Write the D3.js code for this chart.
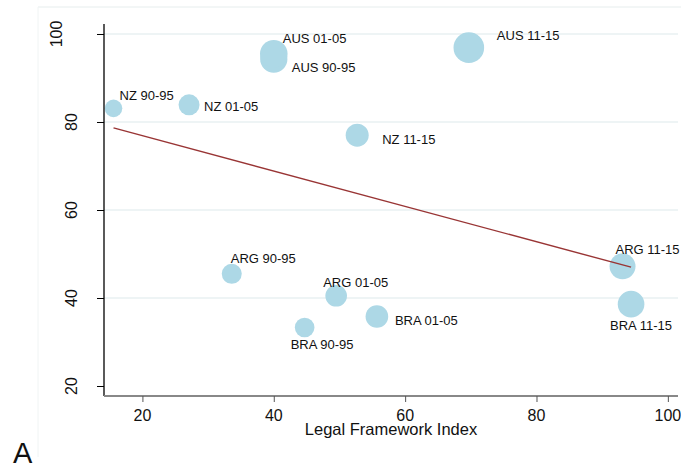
<!DOCTYPE html>
<html>
<head>
<meta charset="utf-8">
<script src="https://cdn.jsdelivr.net/npm/d3@7"></script>
<style>
  html, body { margin: 0; padding: 0; background: #fff; }
  svg { display: block; font-family: "Liberation Sans", Arial, sans-serif; }
</style>
</head>
<body>
<svg id="chart" width="681" height="468"></svg>
<script>
// ---- data ----
const labels = ["NZ 90-95", "NZ 01-05", "NZ 11-15", "AUS 90-95", "AUS 01-05", "AUS 11-15",
                "ARG 90-95", "ARG 01-05", "ARG 11-15", "BRA 90-95", "BRA 01-05", "BRA 11-15"];
const legalIndex = [15.6, 27.1, 52.7, 40.0, 40.0, 69.7, 33.6, 49.5, 93.1, 44.7, 55.7, 94.4];
const outcome    = [83.1, 83.9, 77.0, 94.3, 95.5, 96.9, 45.5, 40.5, 47.2, 33.3, 35.8, 38.6];
const weight     = [77, 110, 132, 186, 190, 234, 100, 117, 169, 96, 128, 177];
const xTicks = [20, 40, 60, 80, 100];
const yTicks = [20, 40, 60, 80, 100];
const xTitle = "Legal Framework Index";
const panelLabel = "A";

// ---- label placement (style): offset of label start / vertical centre from marker centre ----
const labelOffset = {
  "NZ 90-95": [6, -13], "NZ 01-05": [15, 2], "NZ 11-15": [25, 4],
  "AUS 90-95": [18, 8], "AUS 01-05": [9, -15], "AUS 11-15": [28, -12],
  "ARG 90-95": [-1, -15], "ARG 01-05": [-13, -13], "ARG 11-15": [-7, -17],
  "BRA 90-95": [-14, 17], "BRA 01-05": [18, 4], "BRA 11-15": [-21, 21]
};

const pts = labels.map((l, i) => ({ label: l, x: legalIndex[i], y: outcome[i], w: weight[i] }));

const svg = d3.select("#chart");
const x = d3.scaleLinear().domain([14.15, 101.5]).range([104, 677.7]);
const y = d3.scaleLinear().domain([17.73, 102.27]).range([396, 24]);
const r = d3.scaleSqrt().domain([0, d3.max(weight)]).range([0, 15.3]);

// graph region faint border
svg.append("line").attr("x1", 38).attr("x2", 681).attr("y1", 7).attr("y2", 7)
  .attr("stroke", "#e6eded").attr("stroke-width", 1);
svg.append("line").attr("x1", 38).attr("x2", 38).attr("y1", 7).attr("y2", 457)
  .attr("stroke", "#f0f4f4").attr("stroke-width", 1);

// gridlines
svg.append("g").selectAll("line").data(yTicks.filter(t => t !== 20)).join("line")
  .attr("x1", 104).attr("x2", 678)
  .attr("y1", d => y(d)).attr("y2", d => y(d))
  .attr("stroke", "#e8f1f2").attr("stroke-width", 1.4);

// markers
svg.append("g").selectAll("circle").data(pts).join("circle")
  .attr("cx", d => x(d.x)).attr("cy", d => y(d.y)).attr("r", d => r(d.w))
  .attr("fill", "#add8e6");

// marker labels
svg.append("g").selectAll("text").data(pts).join("text")
  .attr("x", d => x(d.x) + labelOffset[d.label][0])
  .attr("y", d => y(d.y) + labelOffset[d.label][1] + 4.6)
  .attr("font-size", 13).attr("fill", "#111")
  .text(d => d.label);

// OLS fit line
const mx = d3.mean(pts, d => d.x), my = d3.mean(pts, d => d.y);
const sxy = d3.sum(pts, d => (d.x - mx) * (d.y - my));
const sxx = d3.sum(pts, d => (d.x - mx) ** 2);
const b = sxy / sxx, a = my - b * mx;
const [x0, x1] = d3.extent(pts, d => d.x);
svg.append("line")
  .attr("x1", x(x0)).attr("y1", y(a + b * x0))
  .attr("x2", x(x1)).attr("y2", y(a + b * x1))
  .attr("stroke", "#993535").attr("stroke-width", 1.4);

// y axis
const yAxis = svg.append("g").attr("transform", "translate(104,0)")
  .call(d3.axisLeft(y).tickValues(yTicks).tickSize(7).tickFormat(""));
yAxis.select(".domain").attr("d", "M0,24V396").attr("stroke", "#000").attr("stroke-width", 1.3);
yAxis.selectAll(".tick line").attr("stroke", "#000").attr("stroke-width", 1);
svg.append("g").selectAll("text").data(yTicks).join("text")
  .attr("transform", d => `translate(${String(d).length > 2 ? 61.7 : 76.7},${y(d)}) rotate(-90)`)
  .attr("text-anchor", "middle").attr("font-size", 16).attr("fill", "#111")
  .text(d => d);

// x axis
const xAxis = svg.append("g").attr("transform", "translate(0,396)")
  .call(d3.axisBottom(x).tickValues(xTicks).tickSize(6).tickFormat(""));
xAxis.select(".domain").attr("d", "M104,0H678").attr("stroke", "#888").attr("stroke-width", 2);
xAxis.selectAll(".tick line").attr("stroke", "#555").attr("stroke-width", 1);
svg.append("g").selectAll("text").data(xTicks).join("text")
  .attr("x", d => x(d)).attr("y", 420.7)
  .attr("text-anchor", "middle").attr("font-size", 16).attr("fill", "#111")
  .text(d => d);

svg.append("text").attr("x", 391).attr("y", 434.5).attr("text-anchor", "middle")
  .attr("font-size", 16.5).attr("fill", "#111").text(xTitle);

svg.append("text").attr("x", 13).attr("y", 462.7)
  .attr("font-size", 29).attr("fill", "#111").text(panelLabel);
</script>
</body>
</html>
